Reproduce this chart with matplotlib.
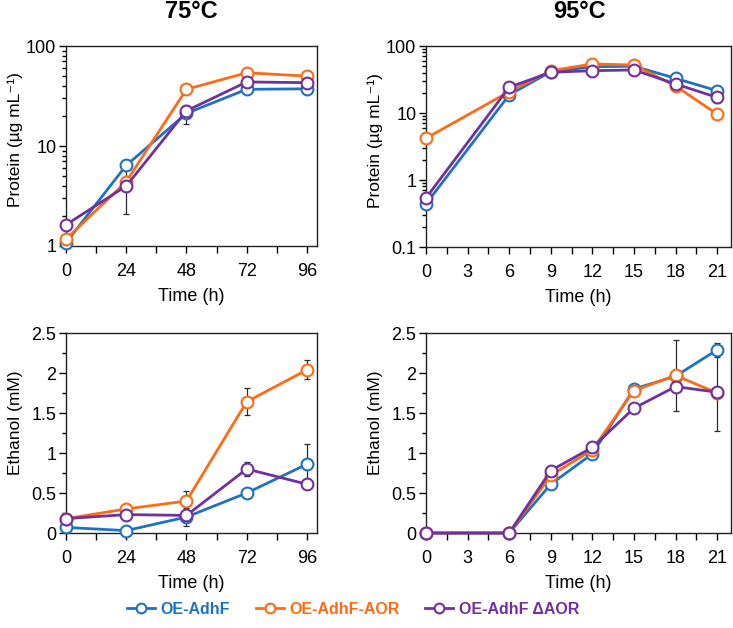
import matplotlib
matplotlib.use("Agg")
import matplotlib.pyplot as plt
import numpy as np
from matplotlib.ticker import FixedLocator, MultipleLocator, FuncFormatter, LogLocator, NullFormatter
from matplotlib.lines import Line2D

plt.rcParams['font.family'] = ['Liberation Sans', 'DejaVu Sans']
plt.rcParams['mathtext.fontset'] = 'custom'
plt.rcParams['mathtext.rm'] = 'Liberation Sans'
plt.rcParams['mathtext.it'] = 'Liberation Sans:italic'

series_names = ["OE-AdhF", "OE-AdhF-AOR", "OE-AdhF \u0394AOR"]
colors = ["#1f72c0", "#ff6a14", "#7030a0"]

# 75 C
t75 = [0, 24, 48, 72, 96]
prot75 = [
    [1.08, 6.4, 21.2, 36.9, 37.3],
    [1.17, 4.4, 36.9, 54.0, 50.0],
    [1.63, 3.98, 22.5, 43.7, 43.0],
]
prot75_err = [
    [0.1, 0.5, 4.5, 3.5, 1.0],
    [0.05, 0.3, 1.0, 2.0, 2.0],
    [0.1, 1.9, 1.0, 2.0, 1.0],
]
eth75 = [
    [0.07, 0.03, 0.20, 0.50, 0.86],
    [0.18, 0.30, 0.40, 1.64, 2.04],
    [0.18, 0.23, 0.22, 0.80, 0.61],
]
eth75_err = [
    [0.02, 0.01, 0.11, 0.04, 0.25],
    [0.02, 0.02, 0.12, 0.17, 0.12],
    [0.02, 0.02, 0.02, 0.09, 0.03],
]

# 95 C
t95 = [0, 6, 9, 12, 15, 18, 21]
prot95 = [
    [0.44, 18.6, 41.4, 49.0, 50.0, 32.9, 21.5],
    [4.19, 20.8, 42.8, 53.9, 52.0, 25.3, 9.6],
    [0.54, 24.2, 40.5, 42.8, 43.9, 27.1, 17.1],
]
prot95_err = [
    [0.02, 1.0, 2.0, 2.0, 2.0, 2.0, 1.5],
    [0.2, 1.0, 2.0, 2.0, 2.0, 2.0, 0.5],
    [0.03, 1.0, 2.0, 2.0, 2.0, 2.0, 3.0],
]
eth95 = [
    [0, 0, 0.61, 0.99, 1.80, 1.96, 2.29],
    [0, 0, 0.72, 1.04, 1.78, 1.97, 1.75],
    [0, 0, 0.78, 1.07, 1.56, 1.83, 1.76],
]
eth95_err = [
    [0, 0, 0.02, 0.02, 0.02, 0.02, 0.09],
    [0, 0, 0.02, 0.02, 0.02, 0.44, 0.02],
    [0, 0, 0.06, 0.02, 0.02, 0.02, 0.48],
]

fig = plt.figure(figsize=(7.33, 6.28), dpi=100)
W, H = 733, 628

def mk_ax(x0, x1, y0, y1):
    return fig.add_axes([x0 / W, 1 - y1 / H, (x1 - x0) / W, (y1 - y0) / H])

ax_tl = mk_ax(66, 317, 46, 246)
ax_tr = mk_ax(426, 731, 46, 247)
ax_bl = mk_ax(66, 317, 333, 533)
ax_br = mk_ax(426, 731, 333, 533)

def draw(ax, t, data, errs):
    for vals, err, c in zip(data, errs, colors):
        ax.errorbar(t, vals, yerr=err, fmt='none', ecolor='#2a2a2a', elinewidth=0.9,
                    capsize=2.5, capthick=0.9, zorder=1)
    for vals, c in zip(data, colors):
        ax.plot(t, vals, color=c, lw=2.0, marker='o', markersize=8.5,
                markerfacecolor='white', markeredgecolor=c, markeredgewidth=1.5,
                zorder=3, clip_on=False)

fmt_g = FuncFormatter(lambda v, p: ('%g' % v))
TICK_FS = 13
XLABEL_FS = 13
YLABEL_FS = 12.5

for ax in [ax_tl, ax_tr, ax_bl, ax_br]:
    for s in ax.spines.values():
        s.set_linewidth(1.0)
        s.set_color('#222222')
    ax.tick_params(axis='x', which='major', direction='out', length=5, width=1,
                   labelsize=TICK_FS, pad=7)
    ax.tick_params(axis='x', which='minor', direction='out', length=5, width=1)
    ax.tick_params(axis='y', which='major', direction='out', length=5, width=1,
                   labelsize=TICK_FS, pad=2)
    ax.tick_params(axis='y', which='minor', direction='out', length=3, width=1)

draw(ax_tl, t75, prot75, prot75_err)
ax_tl.set_yscale('log')
ax_tl.set_ylim(1, 100)
ax_tl.set_xlim(0, 100)
ax_tl.set_xticks([0, 24, 48, 72, 96])
ax_tl.xaxis.set_minor_locator(FixedLocator([12, 36, 60, 84]))

draw(ax_tr, t95, prot95, prot95_err)
ax_tr.set_yscale('log')
ax_tr.set_ylim(0.1, 100)
ax_tr.set_xlim(0, 22)
ax_tr.set_xticks(range(0, 22, 3))
ax_tr.xaxis.set_minor_locator(MultipleLocator(1.5))

for ax in [ax_tl, ax_tr]:
    ax.yaxis.set_major_locator(LogLocator(base=10, numticks=10))
    ax.yaxis.set_minor_locator(LogLocator(base=10, subs=np.arange(2, 10), numticks=10))
    ax.yaxis.set_major_formatter(fmt_g)
    ax.yaxis.set_minor_formatter(NullFormatter())
    ax.set_ylabel('Protein (µg mL\u207b\u00b9)', fontsize=YLABEL_FS)

draw(ax_bl, t75, eth75, eth75_err)
ax_bl.set_xlim(0, 100)
ax_bl.set_xticks([0, 24, 48, 72, 96])
ax_bl.xaxis.set_minor_locator(FixedLocator([12, 36, 60, 84]))

draw(ax_br, t95, eth95, eth95_err)
ax_br.set_xlim(0, 22)
ax_br.set_xticks(range(0, 22, 3))
ax_br.xaxis.set_minor_locator(MultipleLocator(1.5))

for ax in [ax_bl, ax_br]:
    ax.set_ylim(0, 2.5)
    ax.yaxis.set_major_locator(MultipleLocator(0.5))
    ax.yaxis.set_minor_locator(MultipleLocator(0.25))
    ax.yaxis.set_major_formatter(fmt_g)
    ax.set_ylabel('Ethanol (mM)', fontsize=YLABEL_FS)

for ax in [ax_tl, ax_tr, ax_bl, ax_br]:
    ax.set_xlabel('Time (h)', fontsize=XLABEL_FS, labelpad=6)

# y-label positions (right edge of rotated label, in axes fraction)
ax_tl.yaxis.set_label_coords(-0.17, 0.53)
ax_bl.yaxis.set_label_coords(-0.17, 0.55)
ax_tr.yaxis.set_label_coords(-0.14, 0.53)
ax_br.yaxis.set_label_coords(-0.14, 0.55)

fig.text(191 / W, 1 - 12 / H, '75°C', ha='center', va='center', fontsize=17, fontweight='bold')
fig.text(579 / W, 1 - 12 / H, '95°C', ha='center', va='center', fontsize=17, fontweight='bold')

handles = [Line2D([0], [0], color=c, lw=2.0, marker='o', markersize=7,
                  markerfacecolor='white', markeredgecolor=c, markeredgewidth=1.5)
           for c in colors]
leg = fig.legend(handles, series_names, loc='center', bbox_to_anchor=(353 / W, 1 - 609 / H),
                 ncol=3, frameon=False, handlelength=1.75, handletextpad=0.35,
                 columnspacing=1.6, prop={'size': 11.5, 'weight': 'bold'})
for txt, c in zip(leg.get_texts(), colors):
    txt.set_color(c)

fig.savefig('out.png', dpi=100)
